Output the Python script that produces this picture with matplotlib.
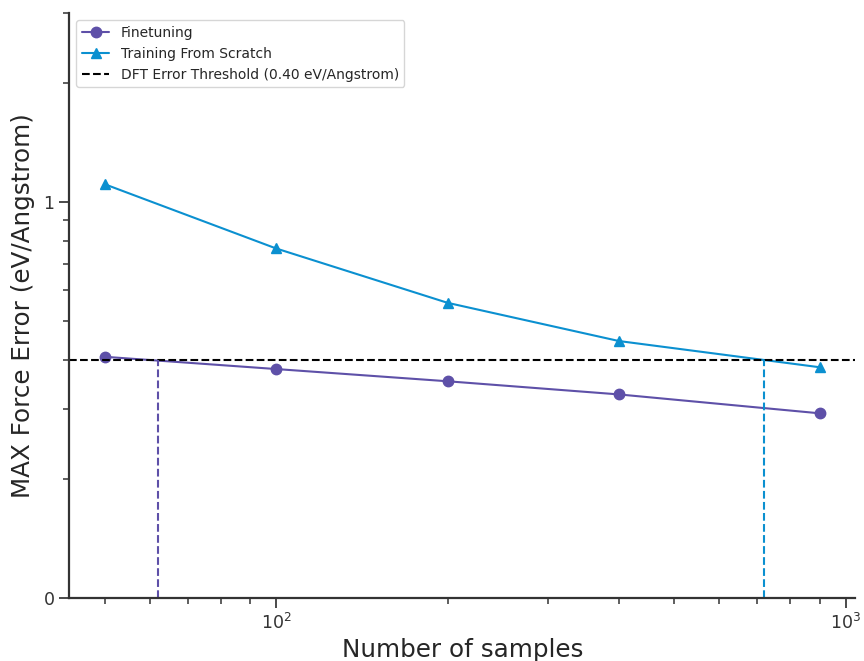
import numpy as np
import seaborn as sns
from matplotlib import pyplot as plt
from matplotlib.ticker import FormatStrFormatter

sns.set_style('ticks')
plt.rcParams['font.family'] = ['DejaVu Sans']

# data
samples = [50, 100, 200, 400, 900]
finetune_err = [0.407, 0.379, 0.353, 0.327, 0.293]
scratch_err = [1.11, 0.764, 0.557, 0.446, 0.383]
threshold = 0.40
# samples where each curve reaches the threshold
finetune_cross = 62
scratch_cross = 720

purple = '#5e50a8'
blue = '#0b90d0'

fig, ax = plt.subplots(figsize=(8.64, 6.61), dpi=100)
ax.plot(samples, finetune_err, 'o-', color=purple, markersize=7.5, linewidth=1.5, label='Finetuning')
ax.plot(samples, scratch_err, '^-', color=blue, markersize=7.5, linewidth=1.5, label='Training From Scratch')
ax.axhline(threshold, color='black', linestyle='--', linewidth=1.5,
           label='DFT Error Threshold (%.2f eV/Angstrom)' % threshold)

ax.set_xscale('log')
ax.set_yscale('log')
ax.set_xlim(43.3, 1040)
ax.set_ylim(0.1, 3)
ax.plot([finetune_cross, finetune_cross], [0.1, threshold], '--', color=purple, linewidth=1.5)
ax.plot([scratch_cross, scratch_cross], [0.1, threshold], '--', color=blue, linewidth=1.5)

ax.yaxis.set_major_formatter(FormatStrFormatter('%d'))
ax.set_xlabel('Number of samples', fontsize=17.7)
ax.set_ylabel('MAX Force Error (eV/Angstrom)', fontsize=17.7, labelpad=6)
ax.tick_params(axis='both', which='major', labelsize=12.5, colors='#333333', labelcolor='#333333',
               length=7, width=1.25)
ax.tick_params(axis='both', which='minor', colors='#333333', length=4, width=1.1)
for s in ['left', 'bottom']:
    ax.spines[s].set_color('#333333')
    ax.spines[s].set_linewidth(1.6)
ax.xaxis.label.set_color('#262626')
ax.yaxis.label.set_color('#262626')
sns.despine(ax=ax)
ax.legend(loc='upper left', fontsize=10)

plt.subplots_adjust(left=0.08, right=0.99, top=0.98, bottom=0.095)
plt.savefig('out.png', dpi=100)
